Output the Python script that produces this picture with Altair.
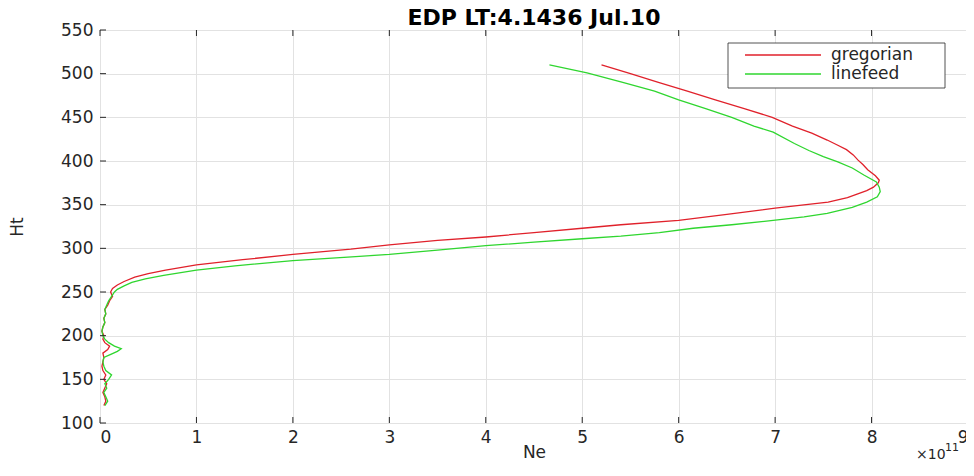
import altair as alt
import pandas as pd

FONT = "DejaVu Sans"
INK = "#262626"

# ---------------- data ----------------
series_names = ["gregorian", "linefeed"]
series_colors = ["#e0212b", "#2fd62f"]

# Ne in units of 1e11
red_ht = [120, 125, 130, 135, 140, 145, 150, 155, 160, 165,
          170, 175, 180, 184, 188, 192, 196, 200, 205, 210,
          215, 220, 225, 230, 235, 240, 245, 250, 254, 258,
          262, 267, 271, 275, 281, 287, 293, 299, 304, 309,
          313, 318, 323, 327, 332, 339, 346, 353, 358, 362,
          366, 370, 375, 378, 383, 390, 396, 401, 407, 413,
          418, 424, 432, 440, 450, 460, 470, 480, 490, 500,
          510]
red_ne = [0.04, 0.06, 0.05, 0.03, 0.05, 0.07, 0.04, 0.06, 0.03, 0.02,
          0.03, 0.04, 0.03, 0.08, 0.10, 0.05, 0.03, 0.04, 0.02, 0.03,
          0.05, 0.04, 0.06, 0.05, 0.08, 0.10, 0.13, 0.11, 0.13, 0.18,
          0.25, 0.36, 0.50, 0.68, 1.0, 1.48, 2.0, 2.6, 3.0, 3.5,
          4.0, 4.5, 5.0, 5.4, 6.0, 6.5, 7.0, 7.55, 7.75, 7.85,
          7.95, 8.02, 8.07, 8.08, 8.04, 7.96, 7.91, 7.86, 7.81, 7.74,
          7.65, 7.54, 7.38, 7.18, 6.97, 6.68, 6.38, 6.09, 5.79, 5.5,
          5.2]

green_ht = [120, 125, 130, 135, 140, 145, 150, 155, 160, 165,
            170, 175, 178, 182, 185, 188, 192, 196, 200, 205,
            210, 215, 220, 225, 230, 235, 240, 245, 250, 253,
            257, 261, 265, 269, 275, 280, 286, 290, 293, 298,
            303, 307, 311, 314, 318, 323, 327, 332, 336, 340,
            347, 353, 359, 365, 370, 376, 384, 392, 399, 405,
            412, 420, 433, 440, 450, 460, 470, 480, 490, 501,
            510]
green_ne = [0.05, 0.08, 0.06, 0.04, 0.07, 0.05, 0.09, 0.12, 0.06, 0.04,
            0.03, 0.04, 0.10, 0.18, 0.22, 0.15, 0.09, 0.05, 0.03, 0.02,
            0.03, 0.05, 0.04, 0.06, 0.05, 0.07, 0.09, 0.12, 0.15, 0.18,
            0.25, 0.33, 0.47, 0.66, 1.0, 1.4, 2.0, 2.57, 3.0, 3.5,
            4.0, 4.5, 5.0, 5.4, 5.8, 6.15, 6.55, 6.98, 7.3, 7.54,
            7.8, 7.95, 8.06, 8.09, 8.08, 8.05, 7.92, 7.8, 7.65, 7.5,
            7.35, 7.2, 6.98, 6.78, 6.55, 6.28, 6.0, 5.75, 5.42, 5.05,
            4.66]

x_ticks = [0, 1, 2, 3, 4, 5, 6, 7, 8, 9]
y_ticks = [100, 150, 200, 250, 300, 350, 400, 450, 500, 550]

title_text = "EDP LT:4.1436 Jul.10"
x_title = "Ne"
y_title = "Ht"
exp_base = "×10"
exp_power = "11"

# ---------------- tables ----------------
rows = []
for name, hts, nes in ((series_names[0], red_ht, red_ne),
                       (series_names[1], green_ht, green_ne)):
    for i, (h, v) in enumerate(zip(hts, nes)):
        rows.append({"series": name, "Ht": h, "Ne": v, "idx": i})
df = pd.DataFrame(rows)

W, H = 868, 393
xscale = alt.Scale(domain=[0, 9], nice=False, zero=False)
yscale = alt.Scale(domain=[100, 550], nice=False, zero=False)
cscale = alt.Scale(domain=series_names, range=series_colors)

lines = alt.Chart(df).mark_line(strokeWidth=1.3, clip=True).encode(
    x=alt.X("Ne:Q", scale=xscale,
            axis=alt.Axis(values=x_ticks, title=x_title, format="d",
                          titleY=21, titleBaseline="top")),
    y=alt.Y("Ht:Q", scale=yscale,
            axis=alt.Axis(values=y_ticks, title=y_title, format="d",
                          titleX=-74, titleY=H / 2)),
    color=alt.Color("series:N", scale=cscale, legend=None),
    order=alt.Order("idx:Q"),
)

# inward MATLAB-style ticks
xt = pd.DataFrame({"Ne": x_ticks})
yt = pd.DataFrame({"Ht": y_ticks})
top_ticks = alt.Chart(xt).mark_rule(color=INK, strokeWidth=1).encode(
    x=alt.X("Ne:Q", scale=xscale), y=alt.value(0), y2=alt.value(6))
bottom_ticks = alt.Chart(xt).mark_rule(color=INK, strokeWidth=1).encode(
    x=alt.X("Ne:Q", scale=xscale), y=alt.value(H - 6), y2=alt.value(H))
left_ticks = alt.Chart(yt).mark_rule(color=INK, strokeWidth=1).encode(
    y=alt.Y("Ht:Q", scale=yscale), x=alt.value(0), x2=alt.value(6))

# legend box (MATLAB style with long line samples)
box = alt.Chart(pd.DataFrame({"a": [0]})).mark_rect(
    fill="white", stroke=INK, strokeWidth=0.8).encode(
    x=alt.value(628), x2=alt.value(845), y=alt.value(13), y2=alt.value(58))

legend_layers = []
for i, name in enumerate(series_names):
    ldf = pd.DataFrame({"series": [name]})
    ry = 25 + 19 * i
    legend_layers.append(
        alt.Chart(ldf).mark_rule(strokeWidth=1.3).encode(
            x=alt.value(645), x2=alt.value(721), y=alt.value(ry),
            color=alt.Color("series:N", scale=cscale, legend=None)))
    legend_layers.append(
        alt.Chart(ldf).mark_text(align="left", baseline="middle", font=FONT,
                                 fontSize=17, color=INK).encode(
            x=alt.value(731), y=alt.value(ry), text="series:N"))

edf = pd.DataFrame({"b": [exp_base], "p": [exp_power]})
exp_base_txt = alt.Chart(edf).mark_text(
    align="left", baseline="alphabetic", font=FONT, fontSize=14, color=INK
).encode(x=alt.value(816), y=alt.value(429), text="b:N")
exp_pow_txt = alt.Chart(edf).mark_text(
    align="left", baseline="alphabetic", font=FONT, fontSize=11, color=INK
).encode(x=alt.value(845), y=alt.value(421), text="p:N")

chart = alt.layer(
    lines, top_ticks, bottom_ticks, left_ticks, box, *legend_layers,
    exp_base_txt, exp_pow_txt
).properties(
    width=W, height=H,
    title=alt.TitleParams(title_text, fontSize=22, fontWeight="bold", font=FONT,
                          color="#000000", anchor="middle", offset=-9),
    autosize=alt.AutoSizeParams(type="none"),
    padding={"left": 92, "top": 22, "right": -2, "bottom": 39},
).configure_view(
    stroke=INK, strokeWidth=1
).configure_axis(
    grid=True, gridColor="#e2e2e2", gridWidth=1,
    domain=False, ticks=False,
    labelFont=FONT, labelFontSize=17, labelColor=INK,
    titleFont=FONT, titleFontSize=17, titleFontWeight="normal", titleColor=INK,
).configure_axisX(
    labelPadding=6
).configure_axisY(
    labelPadding=7
)

chart.save("out.html", embed_options={"renderer": "svg", "actions": False})
